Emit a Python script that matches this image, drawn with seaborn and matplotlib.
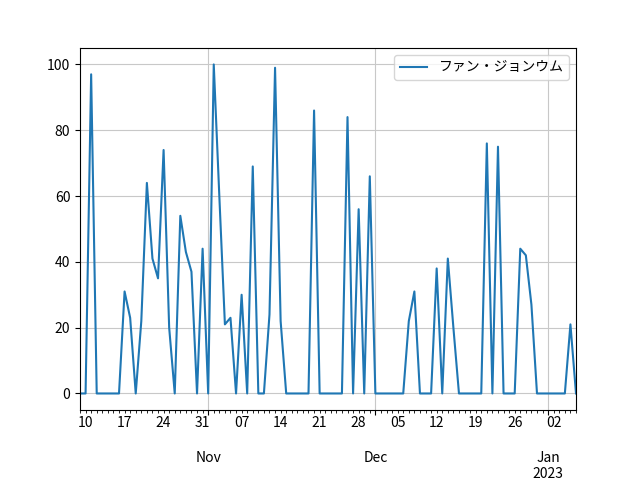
import pandas as pd
import matplotlib
matplotlib.use("Agg")
import matplotlib.pyplot as plt
import matplotlib.dates as mdates
from matplotlib.ticker import FuncFormatter
import seaborn as sns

plt.rcParams['font.family'] = ['Noto Sans CJK JP', 'DejaVu Sans']

serie = 'ファン・ジョンウム'
inicio = '2022-10-09'
valores = [
    0, 0, 97, 0, 0, 0, 0, 0, 31, 23,       # Oct 09 - Oct 18
    0, 22, 64, 41, 35, 74, 20, 0, 54, 43,  # Oct 19 - Oct 28
    37, 0, 44, 0, 100, 60, 21, 23, 0, 30,  # Oct 29 - Nov 07
    0, 69, 0, 0, 24, 99, 22, 0, 0, 0,      # Nov 08 - Nov 17
    0, 0, 86, 0, 0, 0, 0, 0, 84, 0,        # Nov 18 - Nov 27
    56, 0, 66, 0, 0, 0, 0, 0, 0, 22,       # Nov 28 - Dec 07
    31, 0, 0, 0, 38, 0, 41, 20, 0, 0,      # Dec 08 - Dec 17
    0, 0, 0, 76, 0, 75, 0, 0, 0, 44,       # Dec 18 - Dec 27
    42, 27, 0, 0, 0, 0, 0, 0, 21, 0,       # Dec 28 - Jan 05
]

dias = pd.date_range(inicio, periods=len(valores), freq='D')
df = pd.DataFrame({'dia': dias, serie: valores})


def fmt_maior(x, pos=None):
    d = mdates.num2date(x)
    if d.month == 1:
        return d.strftime('\n\n%b\n%Y')
    return d.strftime('\n\n%b')


def fmt_menor(x, pos=None):
    d = mdates.num2date(x)
    return d.strftime('%d') if d.weekday() == 0 else ''


fig, ax = plt.subplots(figsize=(6.4, 4.8), dpi=100)
fig.subplots_adjust(left=0.125, right=0.9, top=0.9, bottom=0.146)
sns.lineplot(data=df, x='dia', y=serie, ax=ax, label=serie, color='#1f77b4', linewidth=1.5)
ax.set_xlim(dias[0], dias[-1])
ax.xaxis.set_major_locator(mdates.MonthLocator())
ax.xaxis.set_minor_locator(mdates.DayLocator())
ax.xaxis.set_major_formatter(FuncFormatter(fmt_maior))
ax.xaxis.set_minor_formatter(FuncFormatter(fmt_menor))
ax.tick_params(axis='x', which='both', pad=2.5)
ax.grid(True, color='#c8c8c8', linewidth=0.8)
ax.set_xlabel('')
ax.set_ylabel('')
ax.legend(loc='upper right')
fig.savefig('out.png', dpi=100)
